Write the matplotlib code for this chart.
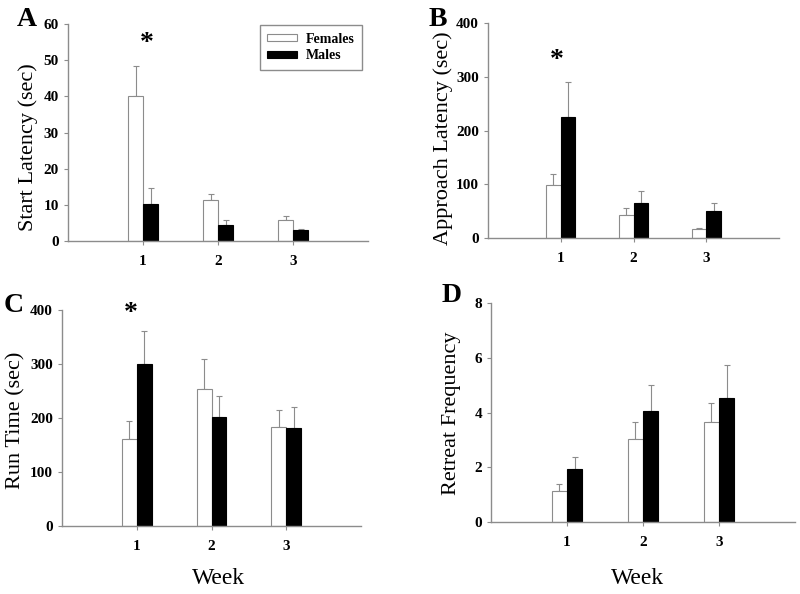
import matplotlib
matplotlib.use('Agg')
import matplotlib.pyplot as plt
import numpy as np

# datos
weeks = [1, 2, 3]
week_labels = ['1', '2', '3']

start_f = [40.2, 11.2, 5.8]
start_f_err = [8.3, 1.8, 1.1]
start_m = [10.1, 4.4, 3.1]
start_m_err = [4.6, 1.4, 0.3]

approach_f = [98, 42, 16]
approach_f_err = [22, 13, 3]
approach_m = [226, 66, 50]
approach_m_err = [65, 21, 16]

run_f = [161, 254, 184]
run_f_err = [33, 55, 30]
run_m = [300, 201, 182]
run_m_err = [61, 39, 38]

retreat_f = [1.12, 3.03, 3.64]
retreat_f_err = [0.25, 0.64, 0.69]
retreat_m = [1.94, 4.06, 4.52]
retreat_m_err = [0.44, 0.96, 1.23]

plt.rcParams['font.family'] = ['Liberation Serif', 'DejaVu Serif']

gray = '#8c8c8c'
W, H = 800, 594
fig = plt.figure(figsize=(8, 5.94), dpi=100)


def panel(box, fem, fem_err, mal, mal_err, ymax, ystep):
    l, r, b, t = box
    ax = fig.add_axes([l / W, 1 - b / H, (r - l) / W, (b - t) / H])
    x = np.array(weeks)
    w = 0.2
    ax.bar(x - w / 2, fem, w, color='white', edgecolor=gray, linewidth=0.8,
           label='Females', zorder=2)
    ax.bar(x + w / 2, mal, w, color='black', edgecolor='black', linewidth=0.8,
           label='Males', zorder=2)
    ax.errorbar(x - w / 2, fem, yerr=[np.zeros(3), fem_err], fmt='none',
                ecolor=gray, elinewidth=0.8, capsize=2.2, capthick=0.8, zorder=1)
    ax.errorbar(x + w / 2, mal, yerr=[np.zeros(3), mal_err], fmt='none',
                ecolor=gray, elinewidth=0.8, capsize=2.2, capthick=0.8, zorder=1)
    ax.set_xlim(0, 4)
    ax.set_ylim(0, ymax)
    ax.set_yticks(np.arange(0, ymax + ystep / 2, ystep))
    ax.set_xticks(weeks)
    ax.set_xticklabels(week_labels)
    for s in ['top', 'right']:
        ax.spines[s].set_visible(False)
    for s in ['left', 'bottom']:
        ax.spines[s].set_color(gray)
        ax.spines[s].set_linewidth(1.0)
    ax.tick_params(axis='both', colors=gray, labelcolor='black', length=3,
                   width=0.8, labelsize=11)
    ax.tick_params(axis='x', pad=7)
    for lab in ax.get_xticklabels() + ax.get_yticklabels():
        lab.set_fontweight('bold')
    return ax


axA = panel((68, 368, 241, 24), start_f, start_f_err, start_m, start_m_err, 60, 10)
axB = panel((488, 779, 238, 23), approach_f, approach_f_err, approach_m,
            approach_m_err, 400, 100)
axC = panel((62, 361, 526, 310), run_f, run_f_err, run_m, run_m_err, 400, 100)
axD = panel((491, 795, 522, 303), retreat_f, retreat_f_err, retreat_m,
            retreat_m_err, 8, 2)

# etiquetas de ejes
fig.text(28 / W, 1 - 147 / H, 'Start Latency (sec)', rotation=90,
         ha='center', va='center', fontsize=16)
fig.text(443 / W, 1 - 138 / H, 'Approach Latency (sec)', rotation=90,
         ha='center', va='center', fontsize=16)
fig.text(16 / W, 1 - 420 / H, 'Run Time (sec)', rotation=90,
         ha='center', va='center', fontsize=16)
fig.text(452 / W, 1 - 413 / H, 'Retreat Frequency', rotation=90,
         ha='center', va='center', fontsize=16)
fig.text(219 / W, 1 - 578 / H, 'Week', ha='center', va='center', fontsize=17)
fig.text(638 / W, 1 - 578 / H, 'Week', ha='center', va='center', fontsize=17)

# letras de panel
for lx, ly, let in [(27, 19, 'A'), (438, 19, 'B'), (14, 305, 'C'), (452, 295, 'D')]:
    fig.text(lx / W, 1 - ly / H, let, ha='center', va='center',
             fontsize=20, fontweight='bold')

# asteriscos
axA.text(1.05, 54.5, '*', ha='center', va='center', fontsize=20, fontweight='bold')
axB.text(0.94, 330, '*', ha='center', va='center', fontsize=20, fontweight='bold')
axC.text(0.92, 393, '*', ha='center', va='center', fontsize=20, fontweight='bold')

leg = axA.legend(loc='upper right', bbox_to_anchor=(362 / W, 1 - 25 / H),
                 bbox_transform=fig.transFigure, borderaxespad=0,
                 fancybox=False, edgecolor=gray, framealpha=1,
                 handlelength=2.16, handleheight=0.4, handletextpad=0.58,
                 borderpad=0.55, labelspacing=0.25,
                 prop={'weight': 'bold', 'size': 10})
leg.get_frame().set_linewidth(1.0)

plt.savefig('out.png', dpi=100)
